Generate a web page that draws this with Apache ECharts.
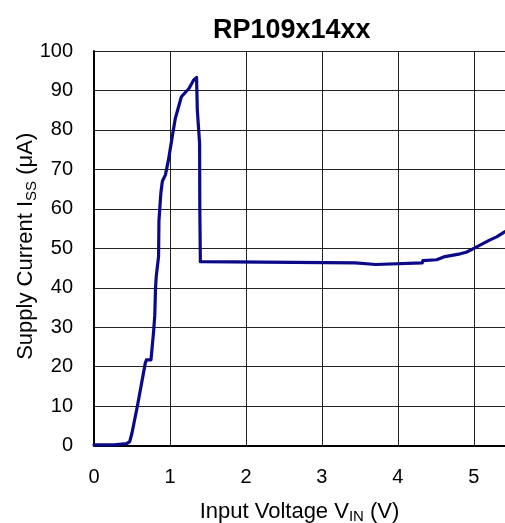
<!DOCTYPE html>
<html><head><meta charset="utf-8">
<script src="https://cdn.jsdelivr.net/npm/echarts@6/dist/echarts.min.js"></script>
<style>html,body{margin:0;padding:0;background:#fff}#c{width:505px;height:523px}</style>
</head><body><div id="c"></div>
<script>
const titleText = 'RP109x14xx';
const vin = [0,0.27,0.28,0.43,0.47,0.50,0.57,0.675,0.69,0.75,0.785,0.80,0.81,0.82,0.85,0.855,0.88,0.90,0.94,0.98,1.03,1.07,1.15,1.25,1.31,1.35,1.36,1.39,1.393,1.40,1.42,3.44,3.45,3.71,3.72,4.32,4.33,4.51,4.52,4.62,4.82,4.90,5.00,5.10,5.20,5.30,5.41];
const iss = [0.2,0.2,0.5,0.5,1,3.2,9.9,20.9,21.7,21.7,29,33,40,43,48,57,64,67,68.6,72.4,78.3,82.9,88.4,90.5,92.6,93.3,85,76.6,59.7,46.6,46.3,46.3,45.9,45.9,46.3,46.3,46.9,47.1,47.4,47.9,48.6,49,50,51,52,52.9,54.2];
const xTicks = [0,1,2,3,4,5];
const yTicks = [0,10,20,30,40,50,60,70,80,90,100];

const chart = echarts.init(document.getElementById('c'), null, {renderer:'canvas'});
const font = 'Liberation Sans, Arial, sans-serif';
chart.setOption({
  animation:false,
  title:{text:titleText,left:208,top:12,textStyle:{fontFamily:font,fontSize:27,fontWeight:'bold',color:'#000'}},
  grid:{left:94,top:51,width:411,height:394.6,show:false,outerBoundsMode:'none',containLabel:false},
  xAxis:{type:'value',min:0,max:5.41,interval:1,nameMoveOverlap:false,
    axisLine:{show:true,lineStyle:{color:'#000',width:2}},
    axisTick:{show:false},
    splitLine:{show:true,showMaxLine:false,lineStyle:{color:'#222',width:1}},
    axisLabel:{fontFamily:font,fontSize:20,color:'#000',margin:22,showMaxLabel:false,
      formatter:v=>xTicks.includes(v)?String(v):''},
    name:'Input Voltage V{s|IN} (V)',nameLocation:'middle',nameGap:55,
    nameTextStyle:{fontFamily:font,fontSize:22,color:'#000',rich:{s:{fontFamily:font,fontSize:15,color:'#000',verticalAlign:'bottom',padding:[0,0,-2,0]}}}
  },
  yAxis:{type:'value',min:0,max:100,interval:10,nameMoveOverlap:false,
    axisLine:{show:true,lineStyle:{color:'#000',width:2}},
    axisTick:{show:false},
    splitLine:{show:true,lineStyle:{color:'#222',width:1}},
    axisLabel:{fontFamily:font,fontSize:20,color:'#000',margin:21,
      formatter:v=>yTicks.includes(v)?String(v):''},
    name:'Supply Current I{s|SS} (μA)',nameLocation:'middle',nameGap:57,nameRotate:90,
    nameTextStyle:{fontFamily:font,fontSize:22,color:'#000',padding:[0,0,0,4],rich:{s:{fontFamily:font,fontSize:15,color:'#000',verticalAlign:'bottom',padding:[0,0,-2,0]}}}
  },
  series:[{type:'line',data:vin.map((v,i)=>[v,iss[i]]),showSymbol:false,symbol:'none',
    lineStyle:{color:'#0a0a88',width:3.2,join:'round',cap:'round'},clip:true}]
});
</script></body></html>
